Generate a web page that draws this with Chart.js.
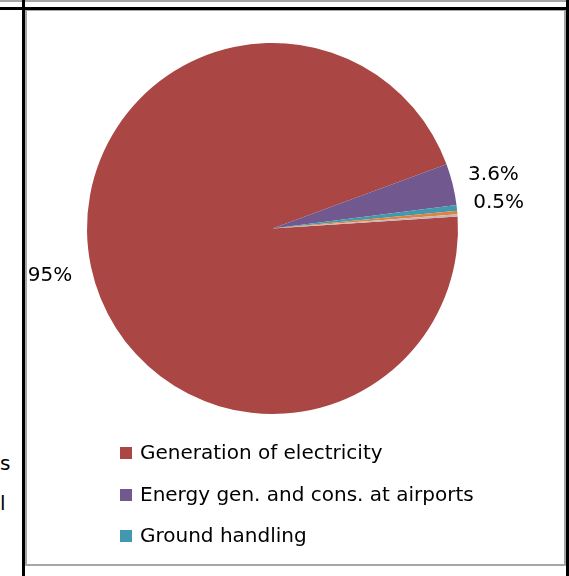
<!DOCTYPE html>
<html lang="en">
<head>
  <meta charset="UTF-8">
  <title>Pie chart</title>
  <style>
    body {
      margin: 0;
      width: 569px;
      height: 576px;
      position: relative;
      overflow: hidden;
      background: #ffffff;
      font-family: "DejaVu Sans", Verdana, sans-serif;
    }

    .line { position: absolute; }

    #chart-wrap {
      position: absolute;
      left: 0;
      top: 0;
      width: 569px;
      height: 576px;
    }

    .legend {
      position: absolute;
      left: 120px;
      top: 432px;
      margin: 0;
      padding: 0;
      list-style: none;
      font-size: 20px;
      color: #000;
    }

    .legend li {
      height: 41.5px;
      line-height: 41.5px;
      white-space: nowrap;
    }

    .legend span {
      display: inline-block;
      width: 12px;
      height: 12px;
      margin-right: 8px;
      vertical-align: 0px;
    }

    .clip-text {
      position: absolute;
      left: 0;
      font-size: 20px;
      color: #000;
    }
  </style>
</head>
<body>
  <!-- table borders around the cell -->
  <div class="line" style="left:0;top:0;width:569px;height:2px;background:#a6a6a6"></div>
  <div class="line" style="left:0;top:7px;width:569px;height:3px;background:#000"></div>
  <div class="line" style="left:22px;top:0;width:3px;height:576px;background:#000"></div>
  <div class="line" style="left:566px;top:0;width:3px;height:576px;background:#000"></div>
  <div class="line" style="left:25px;top:10px;width:2px;height:556px;background:#a6a6a6"></div>
  <div class="line" style="left:25px;top:10px;width:541px;height:1px;background:#a6a6a6"></div>
  <div class="line" style="left:564px;top:10px;width:2px;height:556px;background:#a6a6a6"></div>
  <div class="line" style="left:25px;top:564px;width:541px;height:2px;background:#a6a6a6"></div>

  <!-- clipped words from the neighbouring cell -->
  <div class="clip-text" style="top:451px">s</div>
  <div class="clip-text" style="top:491px">l</div>

  <div id="chart-wrap">
    <canvas id="pie-chart" width="569" height="576"></canvas>
  </div>
  <ul class="legend" id="legend"></ul>

  <script src="https://cdn.jsdelivr.net/npm/chart.js"></script>
  <script>
    // Chart data
    const categories = [
      "Generation of electricity",
      "Energy gen. and cons. at airports",
      "Ground handling",
      "Other sources",
      "Miscellaneous"
    ];
    const shares = [95.4, 3.6, 0.5, 0.3, 0.2];
    const shareLabels = ["95%", "3.6%", "0.5%", "", ""];
    const sliceColors = ["#AA4643", "#71588F", "#4198AF", "#DB843D", "#C9B3B8"];
    const legendCount = 3; // only the first three fit in the legend box

    // Labels outside each slice, placed along the slice's middle angle
    const outsideLabels = {
      id: "outsideLabels",
      afterDatasetsDraw(chart) {
        const ctx = chart.ctx;
        const meta = chart.getDatasetMeta(0);
        ctx.save();
        ctx.font = "20px 'DejaVu Sans', Verdana, sans-serif";
        ctx.fillStyle = "#000";
        ctx.textAlign = "center";
        ctx.textBaseline = "middle";
        meta.data.forEach((arc, i) => {
          const text = shareLabels[i];
          if (!text) return;
          const p = arc.getProps(["x", "y", "startAngle", "endAngle", "outerRadius"], true);
          const mid = (p.startAngle + p.endAngle) / 2;
          const dist = p.outerRadius + 42;
          ctx.fillText(text, p.x + Math.cos(mid) * dist, p.y + Math.sin(mid) * dist);
        });
        ctx.restore();
      }
    };

    const ctx = document.getElementById("pie-chart").getContext("2d");
    const pieChart = new Chart(ctx, {
      type: "pie",
      data: {
        labels: categories,
        datasets: [{
          data: shares,
          backgroundColor: sliceColors,
          borderWidth: 0
        }]
      },
      options: {
        responsive: false,
        animation: false,
        rotation: 86.3,
        layout: {
          padding: { left: 87, right: 111, top: 43, bottom: 162 }
        },
        plugins: {
          legend: { display: false },
          tooltip: { enabled: false }
        }
      },
      plugins: [outsideLabels]
    });

    // HTML legend built from the chart's own legend items
    const legendEl = document.getElementById("legend");
    const items = Chart.overrides.pie.plugins.legend.labels.generateLabels(pieChart);
    items.slice(0, legendCount).forEach((item) => {
      const li = document.createElement("li");
      const box = document.createElement("span");
      box.style.background = item.fillStyle;
      li.appendChild(box);
      li.appendChild(document.createTextNode(item.text));
      legendEl.appendChild(li);
    });
  </script>
</body>
</html>
